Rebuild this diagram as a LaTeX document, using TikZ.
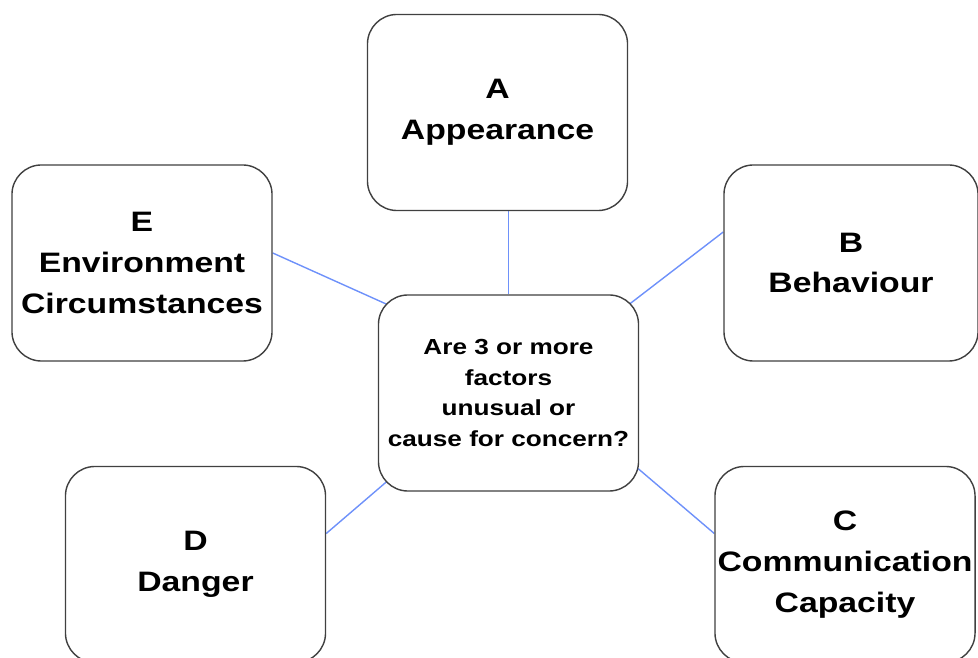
\documentclass[tikz,border=0pt]{standalone}
\usepackage{fontspec}
\setmainfont{Liberation Sans}[FakeStretch=1.2]
\usetikzlibrary{calc,backgrounds}
\definecolor{linkblue}{RGB}{110,145,250}
\tikzset{
  factor/.style={draw=black!75,line width=1pt,fill=white,rounded corners=21pt,
    minimum width=6.5cm,minimum height=4.9cm,inner sep=0pt,align=center,
    font=\bfseries\fontsize{20}{29}\selectfont},
  question/.style={factor,font=\bfseries\fontsize{15.5}{22}\selectfont},
  link/.style={draw=linkblue,line width=1pt}
}
\begin{document}
\begin{tikzpicture}[x=.025cm,y=.025cm]
        \useasboundingbox (0,0) rectangle (978,657);
        \clip (0,0) rectangle (978,657);

        %% centre
        \node (Q) at (508.5,264) [question] {Are 3 or more\\factors\\unusual or\\cause for concern?};

        %% factors
        \node (A) at (497.5,544.5) [factor] {A\\Appearance};
        \node (B) at (851,394) [factor,minimum width=6.35cm] {B\\Behaviour};
        \node (C) at (845,92.5) [factor] {C\\Communication\\Capacity};
        \node (D) at (195.5,92.5) [factor] {D\\Danger};
        \node (E) at (142,394) [factor] {E\\Environment\\Circumstances};

        %% links
        \begin{scope}[on background layer]
        \draw[link] (Q.north) -- (Q.north |- A.south);
        \draw[link] ($(Q.north east)+(-10,-10)$) -- ($(B.west)+(0,31)$);
        \draw[link] ($(Q.south east)+(-1,23)$) -- ($(C.west)+(0,31)$);
        \draw[link] ($(Q.south west)+(10,11)$) -- ($(D.east)+(0,31)$);
        \draw[link] ($(Q.north west)+(9,-10)$) -- ($(E.east)+(0,10)$);
        \end{scope}
\end{tikzpicture}
\end{document}
